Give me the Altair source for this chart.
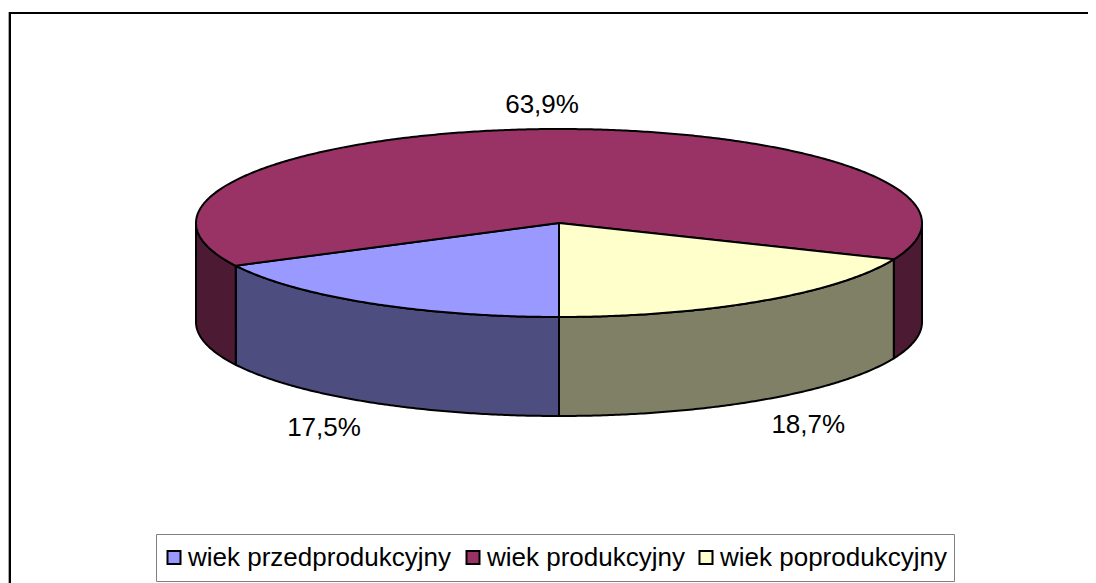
import math
import altair as alt
import pandas as pd

names = ["wiek przedprodukcyjny", "wiek produkcyjny", "wiek poprodukcyjny"]
shares = [17.5, 63.9, 18.7]
labels = ["17,5%", "63,9%", "18,7%"]
top_colors = ["#9999FF", "#993366", "#FFFFCC"]
wall_colors = ["#4D4D80", "#4D1A33", "#808066"]

CX, CY, RX, RY, DEPTH = 551, 215, 363, 94, 99
FONT = "Liberation Sans"

total = sum(shares)


def pt(phi, dy=0):
    a = math.radians(phi)
    return [CX - RX * math.sin(a), CY + RY * math.cos(a) + dy]


def arc(a0, a1, dy=0):
    n = max(2, int(abs(a1 - a0) * 2))
    return [pt(a0 + (a1 - a0) * i / n, dy) for i in range(n + 1)]


def feature(name, ring):
    ring = ring + [ring[0]]
    return {"type": "Feature", "properties": {"name": name},
            "geometry": {"type": "Polygon", "coordinates": [ring]}}


tops, text_rows = [], []
walls = {c: [] for c in wall_colors}
start = 0.0
for name, share, lab, wall in zip(names, shares, labels, wall_colors):
    end = start + share / total * 360
    tops.append(feature(name, [[CX, CY]] + arc(start, end)))
    for lo, hi in ((0, 90), (270, 360)):
        a0, a1 = max(start, lo), min(end, hi)
        if a1 > a0:
            walls[wall].append(feature(name, arc(a0, a1) + arc(a1, a0, DEPTH)))
    mid = math.radians((start + end) / 2)
    cos_mid = math.cos(mid)
    text_rows.append({
        "label": lab,
        "lon": CX - RX * 1.24 * math.sin(mid),
        "lat": CY + RY * cos_mid * (1.32 if cos_mid > 0 else 1.255) + (DEPTH if cos_mid > 0 else 0),
    })
    start = end

proj = dict(type="identity", scale=1, translate=[0, 0])

wall_layers = [
    alt.Chart(alt.Data(values=walls[c]))
    .mark_geoshape(fill=c, stroke="black", strokeWidth=2, strokeJoin="round")
    .project(**proj)
    for c in wall_colors
]

top_layer = (
    alt.Chart(alt.Data(values=tops))
    .mark_geoshape(stroke="black", strokeWidth=2, strokeJoin="round")
    .encode(
        fill=alt.Fill(
            "properties.name:N",
            scale=alt.Scale(domain=names, range=top_colors),
            sort=names,
            legend=alt.Legend(
                title=None,
                orient="none",
                legendX=148,
                legendY=526,
                direction="horizontal",
                columns=3,
                symbolType="square",
                symbolSize=169,
                symbolStrokeColor="black",
                symbolStrokeWidth=2,
                symbolOpacity=1,
                symbolOffset=-2,
                labelFont=FONT,
                labelFontSize=26,
                labelColor="black",
                labelOffset=1,
                labelLimit=400,
                columnPadding=10,
                padding=7,
                clipHeight=33,
                strokeColor="#808080",
                fillColor="white",
            ),
        )
    )
    .project(**proj)
)

text_layer = (
    alt.Chart(pd.DataFrame(text_rows))
    .mark_text(font=FONT, fontSize=26, color="black", baseline="middle", align="center")
    .encode(longitude="lon:Q", latitude="lat:Q", text="label:N")
    .project(**proj)
)

frame_df = pd.DataFrame({"k": [0]})
left_line = alt.Chart(frame_df).mark_rule(color="black", strokeWidth=2).encode(
    x=alt.value(2), y=alt.value(4), y2=alt.value(575))
left_shadow = alt.Chart(frame_df).mark_rule(color="#AAAAAA", strokeWidth=1).encode(
    x=alt.value(0.5), y=alt.value(4), y2=alt.value(575))
top_line = alt.Chart(frame_df).mark_rule(color="black", strokeWidth=2).encode(
    x=alt.value(1), x2=alt.value(1080), y=alt.value(5))

chart = (
    alt.layer(*wall_layers, top_layer, text_layer, left_shadow, left_line, top_line)
    .properties(width=1080, height=575, padding=0, background="white",
                autosize=alt.AutoSizeParams(type="none"))
    .configure_view(strokeWidth=0)
)

chart.save("out.html", embed_options={"renderer": "svg", "actions": False})
